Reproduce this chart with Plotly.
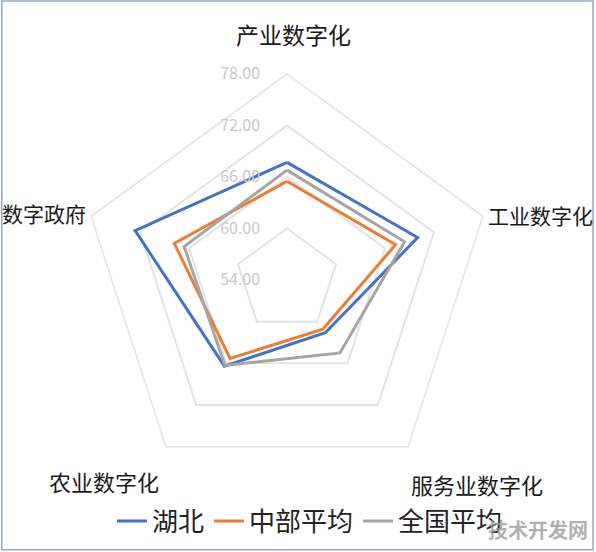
import plotly.graph_objects as go

categories = ["产业数字化", "工业数字化", "服务业数字化", "农业数字化", "数字政府"]
hubei = [67.7, 70.0, 61.6, 66.4, 72.6]
central_avg = [65.5, 67.3, 61.1, 65.3, 67.8]
national_avg = [66.8, 68.4, 64.5, 66.3, 66.6]
series_names = ["湖北", "中部平均", "全国平均"]
colors = ["#4472C4", "#ED7D31", "#A5A5A5"]
tick_vals = [54, 60, 66, 72, 78]
tick_text = ["54.00", "60.00", "66.00", "72.00", "78.00"]

font_family = "Noto Sans CJK SC"
fig = go.Figure()
for name, vals, col in zip(series_names, [hubei, central_avg, national_avg], colors):
    fig.add_trace(go.Scatterpolar(
        r=vals + [vals[0]],
        theta=categories + [categories[0]],
        mode="lines",
        name=name,
        line=dict(color=col, width=3),
    ))

# pad tick labels so they sit to the left of the vertical radial axis
tick_pad = "\u3000\u2002"
padded_ticks = [t + tick_pad for t in tick_text]

W, H = 596, 552
cx, cy, R = 287, 280, 206
fig.update_layout(
    width=W, height=H,
    margin=dict(l=0, r=0, t=0, b=0),
    paper_bgcolor="white",
    plot_bgcolor="white",
    font=dict(family=font_family, color="#222222"),
    polar=dict(
        domain=dict(x=[(cx - R) / W, (cx + R) / W], y=[(H - cy - R) / H, (H - cy + R) / H]),
        bgcolor="white",
        gridshape="linear",
        radialaxis=dict(
            range=[54, 78],
            tickvals=tick_vals,
            ticktext=padded_ticks,
            angle=90,
            tickangle=90,
            side="counterclockwise",
            showline=False,
            ticks="",
            gridcolor="#e3e3e3",
            gridwidth=1.5,
            tickfont=dict(size=16, color="#c8c8c8", family=font_family),
        ),
        angularaxis=dict(
            rotation=90,
            direction="clockwise",
            showgrid=False,
            showticklabels=False,
            linecolor="#e3e3e3",
            linewidth=1.5,
            ticks="",
        ),
    ),
    legend=dict(
        orientation="h",
        x=0.52, xanchor="center",
        y=(H - 521) / H, yanchor="middle",
        font=dict(size=26, color="#222222", family=font_family),
        itemwidth=30,
        bgcolor="rgba(0,0,0,0)",
    ),
    showlegend=True,
)

# category labels placed around the radar
label_pos = [
    (293, 34, "center", 23),
    (486, 215, "left", 21),
    (477, 484, "center", 22),
    (104, 481, "center", 22),
    (88, 213, "right", 21),
]
for cat, (px, py, anchor, size) in zip(categories, label_pos):
    fig.add_annotation(
        x=px / W, xref="paper", xanchor=anchor,
        y=(H - py) / H, yref="paper", yanchor="middle",
        text=cat, showarrow=False,
        font=dict(size=size, color="#1a1a1a", family=font_family),
    )

fig.add_annotation(
    x=0.99, xref="paper", xanchor="right", y=0.01, yref="paper", yanchor="bottom",
    text="<b>技术开发网</b>", showarrow=False,
    font=dict(size=20, color="rgba(150,150,150,0.75)", family=font_family),
)
fig.add_shape(type="rect", xref="paper", yref="paper", x0=0.003, x1=0.995, y0=0.004, y1=0.998,
              line=dict(color="#8FA8D0", width=1.5))
fig.write_html("out.html", config={"displayModeBar": False},
               post_script="document.body.style.margin='0';")
